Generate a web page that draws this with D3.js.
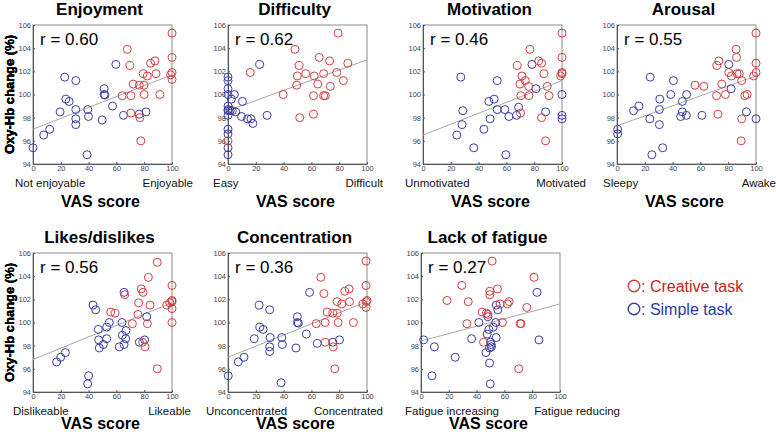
<!DOCTYPE html>
<html><head><meta charset="utf-8">
<script src="https://cdn.jsdelivr.net/npm/d3@7"></script>
<style>
html,body{margin:0;padding:0;background:#fff;}
svg{display:block;font-family:"Liberation Sans",Arial,sans-serif;}
</style></head>
<body><svg id="chart" width="776" height="432"></svg>
<script>
// ---------- DATA ----------
const titles = ["Enjoyment","Difficulty","Motivation","Arousal","Likes/dislikes","Concentration","Lack of fatigue"];
const rValues = ["0.60","0.62","0.46","0.55","0.56","0.36","0.27"];
const lowLabels = ["Not enjoyable","Easy","Unmotivated","Sleepy","Dislikeable","Unconcentrated","Fatigue increasing"];
const highLabels = ["Enjoyable","Difficult","Motivated","Awake","Likeable","Concentrated","Fatigue reducing"];
const xTicks = [0,20,40,60,80,100];
const yTicks = [94,96,98,100,102,104,106];
const legendLabels = ["Creative task","Simple task"];
// regression line: y at VAS 0, y at VAS 100
const fitLines = [[97.0,101.7],[98.6,103.0],[96.5,101.2],[97.3,101.6],[96.8,101.7],[97.0,101.8],[98.4,101.6]];

const enjoymentCreative = [[100,105.3],[67.8,103.9],[100,103.2],[87.7,102.9],[84.6,102.7],[69.7,102.5],[82.2,101.6],[88.5,101.8],[79.3,101.8],[100,101.9],[99,101.7],[100,101.3],[72.1,100.9],[76.4,100.8],[79.8,100.8],[64.2,99.9],[70.4,99.9],[80,100.0],[91.3,100.0],[70.4,98.4],[76.9,98.0],[77.6,96.0]];
const enjoymentSimple = [[0,95.4],[7.7,96.5],[12,97.0],[19.5,98.5],[22.8,101.5],[23.6,99.6],[26,99.4],[30.8,101.2],[30.8,98.7],[30.8,97.9],[30.8,97.4],[39.4,98.7],[39.9,98.1],[38.9,94.8],[49.8,97.8],[51.2,100.5],[51.2,100.0],[51.7,99.95],[57.2,99.0],[59.6,102.6],[65.1,98.2],[76.4,98.3],[81.3,98.5]];

const difficultyCreative = [[79.2,105.3],[48.2,103.9],[65.6,103.2],[73.1,102.9],[86.2,102.7],[51.1,102.5],[16,101.9],[55.9,101.8],[68.8,101.8],[78.2,101.9],[49.9,101.6],[62,101.6],[83,101.2],[64.6,100.9],[49.4,100.8],[73.6,100.7],[39.7,100.0],[61.5,99.9],[68.8,99.9],[70,99.9],[51.6,98.0],[61.5,98.3],[0,96.0]];
const difficultySimple = [[22.8,102.6],[0,101.5],[0,101.2],[0,100.5],[0,100.0],[4.6,100.0],[2.4,99.6],[10.4,99.4],[0,99.0],[0,98.7],[0,98.6],[1.5,98.6],[3.1,98.6],[5.6,98.5],[0,98.2],[9.7,98.1],[14,97.9],[16.5,97.9],[17.9,97.5],[28.1,98.2],[0,97.0],[0,96.6],[0,95.4],[0,94.8]];

const motivationCreative = [[100,105.3],[76.9,103.9],[100,103.2],[83.2,102.9],[85.3,102.7],[67.8,102.5],[100,101.9],[100,101.8],[99,101.6],[87,101.8],[71.2,101.6],[73.6,101.2],[69.7,100.9],[76,100.7],[89.4,100.7],[70.4,99.9],[76.2,99.9],[90.6,99.9],[70.2,98.4],[85.3,98.0],[88.2,96.0]];
const motivationSimple = [[78.4,102.6],[27.2,101.5],[53.4,101.2],[81.3,100.5],[100,100.0],[51.2,99.6],[47.4,99.4],[28.6,98.6],[53.4,98.7],[58.9,98.7],[68.8,98.9],[88.2,98.5],[67.3,98.2],[61.8,98.1],[48.3,97.9],[100,98.2],[100,97.9],[28.1,97.4],[43.8,97.0],[24.3,96.5],[36.5,95.4],[59.6,94.8]];

const arousalCreative = [[100,105.3],[85.7,103.9],[86,103.2],[73.3,102.9],[100,102.7],[71.8,102.5],[80.4,101.9],[86.4,101.8],[88,101.8],[82.3,101.6],[98.3,101.6],[100,101.9],[89.7,101.2],[56.1,100.8],[62.5,100.7],[75.4,100.9],[71.6,99.9],[78,100.0],[91.9,99.9],[93.6,100.0],[72.6,98.3],[89.7,97.9],[89.3,96.0]];
const arousalSimple = [[80.4,102.6],[23.9,101.5],[40.6,101.2],[82.1,100.5],[38.7,100.0],[50.1,100.0],[30.8,99.6],[47,99.4],[15.8,99.0],[11.9,98.6],[30.5,98.7],[47,98.5],[93.1,98.5],[45.8,98.1],[49.9,98.2],[61.1,98.2],[23.6,97.9],[100,97.9],[30.5,97.4],[0.5,97.0],[0.5,96.6],[32.9,95.4],[25.1,94.8]];

const likesCreative = [[89.4,105.2],[83,103.9],[100,103.2],[77.9,102.9],[79.1,102.6],[66,102.4],[100,101.9],[100,101.8],[98.4,101.7],[96.2,101.5],[84.2,101.5],[76,101.7],[55.9,100.9],[59,100.8],[75.5,100.7],[100,101.2],[71.5,99.9],[82.3,99.9],[100,100.0],[80.6,97.9],[78.9,98.3],[89.4,96.0]];
const likesSimple = [[81.8,100.5],[43.2,101.5],[45.1,101.1],[54.9,100.0],[64,100.0],[53,99.6],[47,99.4],[66.9,99.3],[64.3,98.9],[66.7,98.6],[53,98.6],[47.2,98.5],[50.6,98.1],[47.7,97.8],[62.1,97.9],[65.5,98.1],[76.5,98.3],[80.3,98.5],[23.3,97.4],[19.9,97.0],[17,96.6],[40,95.4],[39.3,94.7],[65.5,102.6]];

const concentrationCreative = [[99.3,105.3],[66.8,103.9],[99.3,103.2],[87.1,102.9],[84,102.7],[69,102.5],[100,101.9],[99.5,101.8],[97,101.6],[78.5,101.8],[87.4,101.8],[81.9,101.6],[99.3,101.3],[71.4,100.9],[75.4,100.8],[78.5,100.8],[63.5,99.9],[69.9,100.0],[79.2,100.0],[90.2,100.0],[69.9,98.3],[75.7,97.9],[76.8,96.0]];
const concentrationSimple = [[0.2,95.4],[7.4,96.6],[11.5,97.0],[18.9,98.6],[22.4,101.5],[22.9,99.6],[25.3,99.4],[30,101.1],[30.3,98.7],[30,97.9],[30,97.5],[38.7,98.7],[39.1,98.1],[38.2,94.8],[48.9,97.8],[49.9,100.5],[49.9,100.0],[50.6,99.95],[56.3,99.0],[58.7,102.6],[64.2,98.2],[75.4,98.3],[80.2,98.5]];

const fatigueCreative = [[51.2,105.3],[81.3,103.9],[29.4,103.2],[55,102.9],[49.5,102.7],[49.5,102.4],[18.7,101.9],[34,101.8],[63.4,101.8],[62.2,101.6],[56.9,101.6],[76.1,101.3],[44,100.9],[47.1,100.8],[48.1,100.7],[33,99.9],[58.6,100.0],[71.3,99.9],[72,99.9],[45,98.3],[70.3,96.0]];
const fatigueSimple = [[83.5,102.6],[54.1,101.5],[55.3,101.1],[41.6,100.0],[53.8,100.0],[48.1,100.5],[51.9,99.6],[48.8,99.4],[47.6,99.0],[36.4,98.6],[54.1,98.7],[1.9,98.5],[84.9,98.5],[50,98.3],[50.5,98.1],[50.7,97.9],[49.3,97.8],[9.6,97.9],[46.7,97.4],[24.6,97.0],[49.3,96.5],[7.9,95.4],[49.8,94.7]];

const creativeSets = [enjoymentCreative,difficultyCreative,motivationCreative,arousalCreative,likesCreative,concentrationCreative,fatigueCreative];
const simpleSets = [enjoymentSimple,difficultySimple,motivationSimple,arousalSimple,likesSimple,concentrationSimple,fatigueSimple];

// ---------- LAYOUT ----------
const plotW = 139, plotH = 139;
const panelPos = [[33,25],[228,25],[423,25],[617,25],[33,253],[228,253],[421,253]];
// [start x of low label, end x of high label]
const endLabelPos = [[15,193],[213,383],[405,586],[603,776],[13,191],[206,383],[405,620]];
const vasOffset = [43,43,43,43,37,37,37];
const creativeColor = "#cf3f3f", simpleColor = "#3b3ba6";

const svg = d3.select("#chart");
const x = d3.scaleLinear().domain([0,100]).range([0,plotW]);
const y = d3.scaleLinear().domain([94,106]).range([plotH,0]);

titles.forEach((t,i)=>{
  const [px,py] = panelPos[i];
  const g = svg.append("g").attr("transform",`translate(${px},${py})`);
  g.append("rect").attr("width",plotW).attr("height",plotH).attr("fill","#fff").attr("stroke","#8a8a8a").attr("stroke-width",1);
  const xa = g.append("g").attr("transform",`translate(0,${plotH})`)
    .call(d3.axisBottom(x).tickValues(xTicks).tickSizeInner(-2).tickSizeOuter(0).tickPadding(2));
  const ya = g.append("g")
    .call(d3.axisLeft(y).tickValues(yTicks).tickSizeInner(-2).tickSizeOuter(0).tickPadding(2));
  [xa,ya].forEach(a=>{
    a.select(".domain").attr("stroke","#555");
    a.selectAll(".tick line").attr("stroke","#555");
    a.selectAll("text").attr("font-size","7.5px").attr("fill","#444").attr("font-family","Liberation Sans, Arial, sans-serif");
  });
  const f = fitLines[i];
  g.append("line").attr("x1",x(0)).attr("y1",y(f[0])).attr("x2",x(100)).attr("y2",y(f[1]))
    .attr("stroke","#a8a8a8").attr("stroke-width",1);
  g.selectAll("circle.s").data(simpleSets[i]).enter().append("circle")
    .attr("cx",d=>x(d[0])).attr("cy",d=>y(d[1])).attr("r",4)
    .attr("fill","none").attr("stroke",simpleColor).attr("stroke-width",1);
  g.selectAll("circle.c").data(creativeSets[i]).enter().append("circle")
    .attr("cx",d=>x(d[0])).attr("cy",d=>y(d[1])).attr("r",4)
    .attr("fill","none").attr("stroke",creativeColor).attr("stroke-width",1);
  g.append("text").attr("x",7).attr("y",20).attr("font-size","17px").attr("fill","#000")
    .text("r = "+rValues[i]);
  g.append("text").attr("x",plotW/2-3).attr("y",-10).attr("text-anchor","middle")
    .attr("font-size","17px").attr("font-weight","bold").text(t);
  g.append("text").attr("transform",`translate(${14-px},${plotH/2}) rotate(-90)`)
    .attr("text-anchor","middle").attr("font-size","13px").attr("font-weight","bold").text("Oxy-Hb change (%)");
  g.append("text").attr("x",plotW/2-2).attr("y",plotH+vasOffset[i]).attr("text-anchor","middle")
    .attr("font-size","16px").attr("font-weight","bold").text("VAS score");
  g.append("text").attr("x",endLabelPos[i][0]-px).attr("y",plotH+23).attr("font-size","11.5px").attr("fill","#111").text(lowLabels[i]);
  g.append("text").attr("x",endLabelPos[i][1]-px).attr("y",plotH+23).attr("text-anchor","end").attr("font-size","11.5px").attr("fill","#111").text(highLabels[i]);
});

const legColors = [creativeColor, simpleColor];
const legTextColors = ["#c42424","#2a3aa0"];
legendLabels.forEach((l,i)=>{
  const ly = 286 + i*23;
  svg.append("circle").attr("cx",634).attr("cy",ly).attr("r",5.8).attr("fill","none")
    .attr("stroke",legColors[i]).attr("stroke-width",1.4);
  svg.append("text").attr("x",641).attr("y",ly+5.5).attr("font-size","16px").attr("fill",legTextColors[i]).text(": "+l);
});
</script></body></html>
